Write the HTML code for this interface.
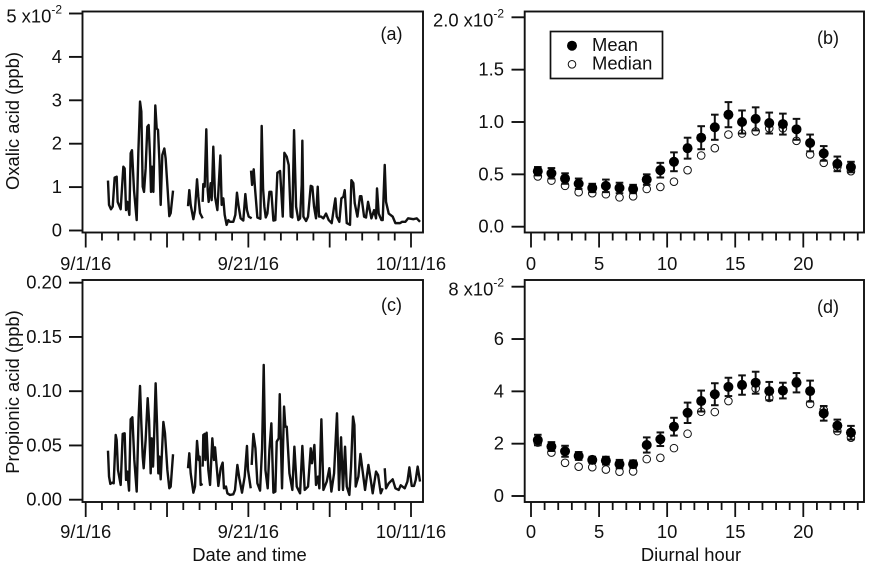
<!DOCTYPE html>
<html lang="en">
<head>
<meta charset="utf-8">
<title>Oxalic and propionic acid time series and diurnal profiles</title>
<style>
html,body{margin:0;padding:0;background:#fff;}
#chart{display:block;width:872px;height:568px;font-family:"Liberation Sans",sans-serif;fill:#111;}
text{font-size:18.4px;}
</style>
</head>
<body>
<svg id="chart" xmlns="http://www.w3.org/2000/svg" width="872" height="568" viewBox="0 0 872 568">
  <g id="panel-a"></g>
  <g id="panel-b"></g>
  <g id="panel-c"></g>
  <g id="panel-d"></g>
  <text x="19" y="121" text-anchor="middle" transform="rotate(-90 19 121)">Oxalic acid (ppb)</text>
  <text x="19" y="392" text-anchor="middle" transform="rotate(-90 19 392)">Propionic acid (ppb)</text>
  <text x="249.5" y="561" text-anchor="middle">Date and time</text>
  <text x="691" y="561" text-anchor="middle">Diurnal hour</text>
  <g>
    <rect x="550.5" y="31.5" width="112" height="47" fill="#fff" stroke="#111" stroke-width="1.7"></rect>
    <circle cx="572" cy="45.7" r="5" fill="#000"></circle>
    <circle cx="572" cy="64.3" r="3.8" fill="#fff" stroke="#111" stroke-width="1"></circle>
    <text x="592" y="51">Mean</text>
    <text x="592" y="69.5">Median</text>
  </g>
</svg>
<script>
var oxalicDays = [2.74,2.87,3.11,3.32,3.56,3.81,3.93,4.30,4.63,4.79,4.96,5.12,5.37,5.53,5.69,5.94,6.27,6.47,6.68,6.84,7.01,7.17,7.37,7.58,7.74,7.91,8.03,8.15,8.32,8.56,8.73,8.89,9.06,9.22,9.42,9.67,9.83,10.08,10.28,10.45,10.74,11.5,
12.58,12.74,12.91,13.24,13.44,13.69,13.85,14.06,14.38,14.40,
14.38,14.46,14.63,14.83,15.0,15.12,15.37,15.49,15.69,15.9,16.19,16.56,16.72,16.92,17.09,17.33,17.54,17.74,18.15,18.4,18.6,18.81,19.05,19.38,19.63,19.83,20.04,20.41,20.42,
20.33,20.46,20.66,20.82,21.11,21.48,21.64,21.81,21.97,22.14,22.34,22.59,22.83,23.08,23.32,23.57,23.9,24.23,24.43,24.72,24.96,25.21,25.41,25.62,25.87,26.15,26.36,26.56,26.64,26.77,27.1,27.34,27.67,27.87,28.08,28.32,28.53,28.69,28.94,29.23,29.55,29.88,30.25,30.54,30.7,30.87,31.19,31.44,31.69,31.85,32.1,32.5,32.67,32.91,33.08,33.41,33.73,33.9,34.23,34.47,34.72,35.13,35.46,35.7,35.82,36.03,36.36,36.52,36.77,36.93,37.26,37.75,38.08,38.65,38.9,39.31,39.64,40.29,40.7,41.11];
var oxalicValues = [1.15,0.59,0.49,0.55,1.22,1.24,0.66,0.49,1.47,1.43,0.47,0.66,0.36,1.78,1.85,0.93,0.24,1.78,2.97,2.74,1.01,0.89,1.43,2.39,2.43,1.70,0.89,1.47,0.89,2.88,2.35,2.32,1.62,0.59,1.74,1.89,1.66,0.93,0.33,0.40,0.92,null,
0.56,0.93,0.59,0.26,0.47,1.18,0.78,0.40,0.28,null,
0.66,1.07,1.01,2.33,0.93,0.66,1.09,0.70,1.93,0.78,0.47,1.73,0.59,0.74,0.36,0.13,0.24,0.20,0.20,0.36,0.87,0.55,0.28,0.23,0.84,0.47,0.32,0.28,null,
1.38,1.05,1.41,0.97,0.30,0.27,2.41,0.97,0.55,0.30,0.39,0.89,0.89,0.23,0.24,1.33,1.37,0.32,1.79,1.70,1.51,0.32,0.30,2.31,0.55,0.24,0.28,1.05,2.07,0.32,0.22,0.32,1.03,1.01,0.55,0.28,1.01,0.32,0.32,0.28,0.39,0.24,0.17,0.55,0.74,0.32,0.20,0.74,0.78,0.93,0.17,0.13,1.16,1.09,0.63,0.32,0.79,0.79,0.32,0.30,0.66,0.28,0.47,0.28,0.97,0.39,0.24,0.24,1.51,0.66,0.39,0.32,0.17,0.17,0.20,0.20,0.28,0.26,0.28,0.20];

var propionicDays = [2.74,2.87,3.03,3.24,3.44,3.69,3.81,3.97,4.30,4.55,4.79,4.96,5.12,5.33,5.53,5.74,5.98,6.27,6.51,6.68,6.84,7.01,7.13,7.37,7.62,7.79,7.99,8.11,8.28,8.4,8.6,8.77,8.93,9.06,9.22,9.55,9.75,10.04,10.28,10.45,10.74,11.5,
12.58,12.74,12.91,13.24,13.44,13.69,13.89,14.01,14.14,14.38,14.40,
14.38,14.46,14.63,14.71,14.87,15.08,15.29,15.57,15.78,15.9,16.31,16.6,16.84,17.0,17.25,17.42,17.74,18.15,18.36,18.65,18.89,19.22,19.55,19.83,19.96,20.29,20.35,
20.41,20.62,20.87,21.11,21.44,21.69,21.89,22.1,22.38,22.59,22.83,23.08,23.32,23.49,23.73,23.86,24.14,24.39,24.55,24.72,25.05,25.41,25.66,25.95,26.36,26.64,26.93,27.34,27.67,27.83,28.12,28.32,28.57,28.73,28.98,29.23,29.64,29.96,30.21,30.54,30.9,31.15,31.4,31.64,31.89,32.1,32.42,32.63,32.87,33.04,33.2,33.53,33.78,33.98,34.35,34.76,35.05,35.29,35.7,35.95,36.28,36.52,36.6,
36.77,36.93,37.26,37.75,38.08,38.49,38.74,39.23,39.56,39.8,40.09,40.37,40.58,40.82,41.11];
var propionicValues = [0.0452,0.0213,0.0145,0.0157,0.0151,0.0597,0.0551,0.0274,0.0136,0.0606,0.0612,0.0182,0.0259,0.0084,0.0741,0.0760,0.0366,0.0075,0.0766,0.1048,0.0704,0.0397,0.0290,0.0551,0.0935,0.0735,0.0243,0.0566,0.0305,0.0551,0.1073,0.0704,0.0243,0.0397,0.0188,0.0717,0.0612,0.0274,0.0105,0.0121,0.0419,null,
0.0290,0.0428,0.0243,0.0065,0.0121,0.0541,0.0366,0.0397,0.0136,0.0145,null,
0.0305,0.0597,0.0606,0.0366,0.0618,0.0274,0.0136,0.0566,0.0366,0.0483,0.0127,0.0290,0.0342,0.0105,0.0121,0.0059,0.0044,0.0050,0.0090,0.0320,0.0197,0.0065,0.0213,0.0495,0.0274,0.0105,null,
0.0320,0.0606,0.0474,0.0151,0.0084,0.0474,0.1242,0.0274,0.0105,0.0458,0.0704,0.0065,0.0075,0.0535,0.0566,0.0972,0.0105,0.0858,0.0673,0.0673,0.0243,0.0090,0.0489,0.0121,0.0059,0.0495,0.0090,0.0121,0.0474,0.0336,0.0505,0.0136,0.0213,0.0105,0.0741,0.0090,0.0167,0.0290,0.0075,0.0243,0.0796,0.0090,0.0575,0.0090,0.0489,0.0121,0.0044,0.0305,0.0766,0.0689,0.0121,0.0213,0.0422,0.0305,0.0090,0.0320,0.0182,0.0059,0.0259,0.0228,0.0059,0.0105,null,
0.0290,0.0105,0.0151,0.0188,0.0105,0.0090,0.0133,0.0105,0.0167,0.0298,0.0127,0.0127,0.0182,0.0305,0.0167];

var hours = [0.5,1.5,2.5,3.5,4.5,5.5,6.5,7.5,8.5,9.5,10.5,11.5,12.5,13.5,14.5,15.5,16.5,17.5,18.5,19.5,20.5,21.5,22.5,23.5];
var oxalicMean = [0.53,0.51,0.46,0.41,0.37,0.39,0.37,0.36,0.45,0.54,0.62,0.75,0.85,0.95,1.07,1.00,1.03,0.99,0.98,0.93,0.80,0.70,0.60,0.57];
var oxalicError = [0.04,0.05,0.05,0.05,0.04,0.06,0.05,0.04,0.05,0.07,0.09,0.10,0.11,0.12,0.12,0.11,0.11,0.10,0.10,0.10,0.08,0.07,0.07,0.05];
var oxalicMedian = [0.48,0.44,0.39,0.33,0.32,0.31,0.28,0.29,0.36,0.38,0.43,0.54,0.68,0.75,0.88,0.89,0.91,0.94,0.94,0.82,0.69,0.61,0.57,0.53];
var propionicMean = [2.14,1.89,1.71,1.53,1.38,1.35,1.22,1.22,1.95,2.17,2.65,3.18,3.63,3.89,4.17,4.24,4.33,4.01,4.03,4.33,4.01,3.16,2.69,2.42];
var propionicError = [0.20,0.17,0.21,0.15,0.12,0.15,0.16,0.14,0.29,0.26,0.34,0.39,0.40,0.42,0.35,0.37,0.42,0.35,0.30,0.37,0.40,0.28,0.23,0.26];
var propionicMedian = [2.04,1.66,1.27,1.12,1.10,1.01,0.93,0.94,1.41,1.46,1.83,2.38,3.22,3.21,3.63,4.28,4.11,3.75,4.03,4.39,3.52,3.29,2.48,2.23];

var dateTickLabels = ['9/1/16','9/21/16','10/11/16'];
var hourTickLabels = ['0','5','10','15','20'];
var yTicksA = ['0','1','2','3','4','5'];
var yTicksB = ['0.0','0.5','1.0','1.5','2.0'];
var yTicksC = ['0.00','0.05','0.10','0.15','0.20'];
var yTicksD = ['0','2','4','6','8'];

var NS = 'http://www.w3.org/2000/svg';

function make(parent, tag, attrs, name) {
  var el = document.createElementNS(NS, tag);
  for (var k in attrs) el.setAttribute(k, attrs[k]);
  
  
  parent.appendChild(el);
  return el;
}
function linear(d0, d1, r0, r1) {
  return function (v) { return r0 + (v - d0) * (r1 - r0) / (d1 - d0); };
}
function seg(g, x1, y1, x2, y2, w, name) {
  return make(g, 'line', { x1: x1, y1: y1, x2: x2, y2: y2, stroke: '#111', 'stroke-width': w }, name);
}
function frame(g, b) {
  make(g, 'rect', { x: b.l, y: b.t, width: b.r - b.l, height: b.b - b.t, fill: 'none', stroke: '#111', 'stroke-width': 1.9 }, 'plot-frame');
}
function yAxis(g, b, labels, yScale, tickLeft, textRight, expo) {
  labels.forEach(function (lab, i) {
    var v = parseFloat(lab), y = yScale(v);
    seg(g, tickLeft, y, b.l, y, 1.9, 'y-tick');
    var isTop = expo && i === labels.length - 1;
    var t = make(g, 'text', { x: textRight, y: isTop ? y + 9 : y + 6, 'text-anchor': 'end' }, 'y-tick-label');
    t.textContent = isTop ? lab + ' x10' : lab;
    if (isTop) {
      var s = make(t, 'tspan', { dy: -9, 'font-size': 12 }, 'y-tick-exponent');
      s.style.fontSize = '12px';
      s.textContent = '-2';
    }
  });
}
function xAxis(g, b, xScale, maxV, minorStep, majorEvery, labels, labelStep, lenMajor, lenMinor, labelY) {
  for (var v = 0, i = 0; v <= maxV; v += minorStep, i++) {
    var x = xScale(v);
    var major = v % majorEvery === 0;
    seg(g, x, b.b, x, b.b + (major ? lenMajor : lenMinor), 1.8, major ? 'x-major-tick' : 'x-minor-tick');
  }
  labels.forEach(function (lab, j) {
    var t = make(g, 'text', { x: xScale(j * labelStep), y: labelY, 'text-anchor': 'middle' }, 'x-tick-label');
    t.textContent = lab;
  });
}
function series(g, xs, ys, xScale, yScale, name) {
  var d = '', pen = false;
  for (var i = 0; i < xs.length; i++) {
    if (ys[i] === null) { pen = false; continue; }
    d += (pen ? 'L' : 'M') + xScale(xs[i]).toFixed(2) + ' ' + yScale(ys[i]).toFixed(2);
    pen = true;
  }
  make(g, 'path', { d: d, fill: 'none', stroke: '#111', 'stroke-width': 2.4, 'stroke-linejoin': 'round' }, name);
}
function diurnal(g, xs, mean, err, median, xScale, yScale) {
  xs.forEach(function (h, i) {
    var x = xScale(h);
    make(g, 'circle', { cx: x, cy: yScale(median[i]), r: 3.8, fill: '#fff', stroke: '#111', 'stroke-width': 1 }, 'median-point');
  });
  xs.forEach(function (h, i) {
    var x = xScale(h), hi = yScale(mean[i] + err[i]), lo = yScale(mean[i] - err[i]);
    seg(g, x, hi, x, lo, 2, 'error-bar');
    seg(g, x - 3.8, hi, x + 3.8, hi, 2, 'error-cap-top');
    seg(g, x - 3.8, lo, x + 3.8, lo, 2, 'error-cap-bottom');
    make(g, 'circle', { cx: x, cy: yScale(mean[i]), r: 5, fill: '#000' }, 'mean-point');
  });
}
function panelLabel(g, x, y, s) {
  var t = make(g, 'text', { x: x, y: y, 'text-anchor': 'middle' }, 'panel-label');
  t.style.fontSize = '18px';
  t.textContent = s;
}

var dayX = linear(0, 40, 85.7, 411);
var hourX = linear(0, 20, 531, 803.3);

// Panel (a)
(function () {
  var g = document.getElementById('panel-a');
  var b = { l: 82.5, r: 423, t: 11.5, b: 232.5 };
  var y = linear(0, 5, 230.5, 13.5);
  series(g, oxalicDays, oxalicValues, dayX, y, 'oxalic-acid-line');
  frame(g, b);
  yAxis(g, b, yTicksA, y, 69, 62, true);
  xAxis(g, b, dayX, 40, 2, 10, dateTickLabels, 20, 15, 8, 270);
  panelLabel(g, 391.5, 40, '(a)');
})();

// Panel (b)
(function () {
  var g = document.getElementById('panel-b');
  var b = { l: 524.7, r: 864, t: 11.5, b: 232.5 };
  var y = linear(0, 2, 226.7, 17.3);
  diurnal(g, hours, oxalicMean, oxalicError, oxalicMedian, hourX, y);
  frame(g, b);
  yAxis(g, b, yTicksB, y, 511.5, 504, true);
  xAxis(g, b, hourX, 24, 1, 5, hourTickLabels, 5, 15, 8, 270);
  panelLabel(g, 828, 44, '(b)');
})();

// Panel (c)
(function () {
  var g = document.getElementById('panel-c');
  var b = { l: 82.5, r: 423, t: 280, b: 502 };
  var y = linear(0, 0.2, 499.7, 282.7);
  series(g, propionicDays, propionicValues, dayX, y, 'propionic-acid-line');
  frame(g, b);
  yAxis(g, b, yTicksC, y, 69, 62, false);
  xAxis(g, b, dayX, 40, 2, 10, dateTickLabels, 20, 15, 8, 538);
  panelLabel(g, 391.5, 311, '(c)');
})();

// Panel (d)
(function () {
  var g = document.getElementById('panel-d');
  var b = { l: 524.7, r: 864, t: 280, b: 502 };
  var y = linear(0, 8, 496, 286.7);
  diurnal(g, hours, propionicMean, propionicError, propionicMedian, hourX, y);
  frame(g, b);
  yAxis(g, b, yTicksD, y, 511.5, 504, true);
  xAxis(g, b, hourX, 24, 1, 5, hourTickLabels, 5, 15, 8, 538);
  panelLabel(g, 828, 313, '(d)');
})();
</script>
</body>
</html>
